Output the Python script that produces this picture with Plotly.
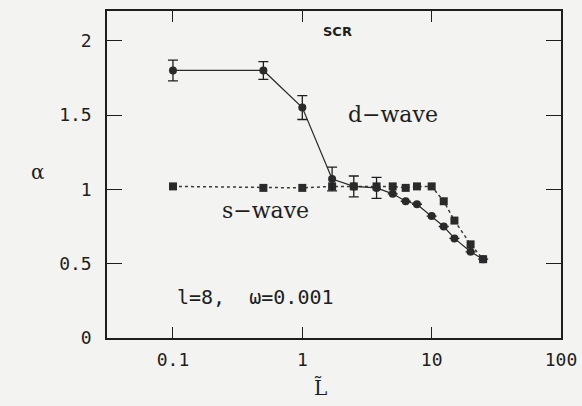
import plotly.graph_objects as go

# ---- data ----
L_d = [0.1, 0.5, 1.0, 1.7, 2.5, 3.75, 5.0, 6.3, 7.7, 10.0, 12.4, 15.0, 20.0, 25.0]
alpha_d = [1.80, 1.80, 1.55, 1.07, 1.02, 1.01, 0.97, 0.92, 0.90, 0.82, 0.75, 0.67, 0.58, 0.53]
err_d = [0.07, 0.06, 0.08, 0.08, 0.07, 0.07, 0.0, 0.0, 0.0, 0.0, 0.0, 0.0, 0.0, 0.0]

L_s = [0.1, 0.5, 1.0, 1.7, 2.5, 3.75, 5.0, 6.3, 7.7, 10.0, 12.4, 15.0, 20.0, 25.0]
alpha_s = [1.02, 1.01, 1.01, 1.02, 1.02, 1.02, 1.02, 1.01, 1.02, 1.02, 0.92, 0.79, 0.63, 0.53]

x_tickvals = [0.1, 1, 10, 100]
x_ticktext = ["0.1", "1", "10", "100"]
y_tickvals = [0, 0.5, 1, 1.5, 2]
y_ticktext = ["0", "0.5", "1", "1.5", "2"]

INK = "#1e1e1e"
BG = "#f3f3f1"
FONT = "DejaVu Serif"
TICKFONT = "DejaVu Sans Mono"

fig = go.Figure()

fig.add_trace(go.Scatter(
    x=L_s, y=alpha_s, mode="lines+markers",
    line=dict(color="#3a3a3a", width=1.5, dash="dot"),
    marker=dict(symbol="square", size=8, color="#2a2a2a"),
    showlegend=False,
))

fig.add_trace(go.Scatter(
    x=L_d, y=alpha_d, mode="lines+markers",
    line=dict(color="#2a2a2a", width=1.2),
    marker=dict(symbol="circle", size=8, color="#2a2a2a"),
    error_y=dict(type="data", array=err_d, visible=True, color=INK, thickness=1.3, width=5),
    showlegend=False,
))

fig.update_layout(
    width=582, height=406,
    margin=dict(l=107, r=21, t=11, b=68),
    paper_bgcolor=BG, plot_bgcolor=BG,
    font=dict(family=FONT, size=15, color=INK),
)

fig.update_xaxes(
    type="log", range=[-1.51, 2.0], automargin=False,
    tickvals=x_tickvals, ticktext=x_ticktext,
    ticks="inside", ticklen=11, tickwidth=1.3, tickcolor=INK,
    showline=True, linecolor=INK, linewidth=1.5, mirror="ticks",
    showgrid=False, zeroline=False,
    ticklabelstandoff=5,
    tickfont=dict(family=TICKFONT, size=18, color=INK),
)
fig.update_yaxes(
    range=[0, 2.2], automargin=False,
    tickvals=y_tickvals, ticktext=y_ticktext,
    ticks="inside", ticklen=15, tickwidth=1.3, tickcolor=INK,
    showline=True, linecolor=INK, linewidth=1.5, mirror="ticks",
    showgrid=False, zeroline=False,
    ticklabelstandoff=10,
    tickfont=dict(family=TICKFONT, size=18, color=INK),
)

ann = [
    dict(text="<b>SCR</b>", x=337, y=32, size=13, fam="DejaVu Sans"),
    dict(text="d\u2212wave", x=393, y=114, size=22, fam=FONT),
    dict(text="s\u2212wave", x=265, y=210, size=22, fam=FONT),
    dict(text="l=8,  \u03c9=0.001", x=255, y=297, size=20, fam=TICKFONT),
    dict(text="\u03b1", x=38, y=172, size=20, fam=FONT),
    dict(text="L\u0303", x=320, y=388, size=20, fam=FONT),
]
for a in ann:
    fig.add_annotation(
        text=a["text"], xref="paper", yref="paper",
        x=(a["x"] - 107) / (561 - 107), y=(338 - a["y"]) / (338 - 11),
        xanchor="center", yanchor="middle", showarrow=False,
        font=dict(family=a["fam"], size=a["size"], color=INK),
    )

fig.write_html(
    "out.html",
    config={"displayModeBar": False},
    post_script="document.body.style.margin='0';document.body.style.overflow='hidden';",
)
